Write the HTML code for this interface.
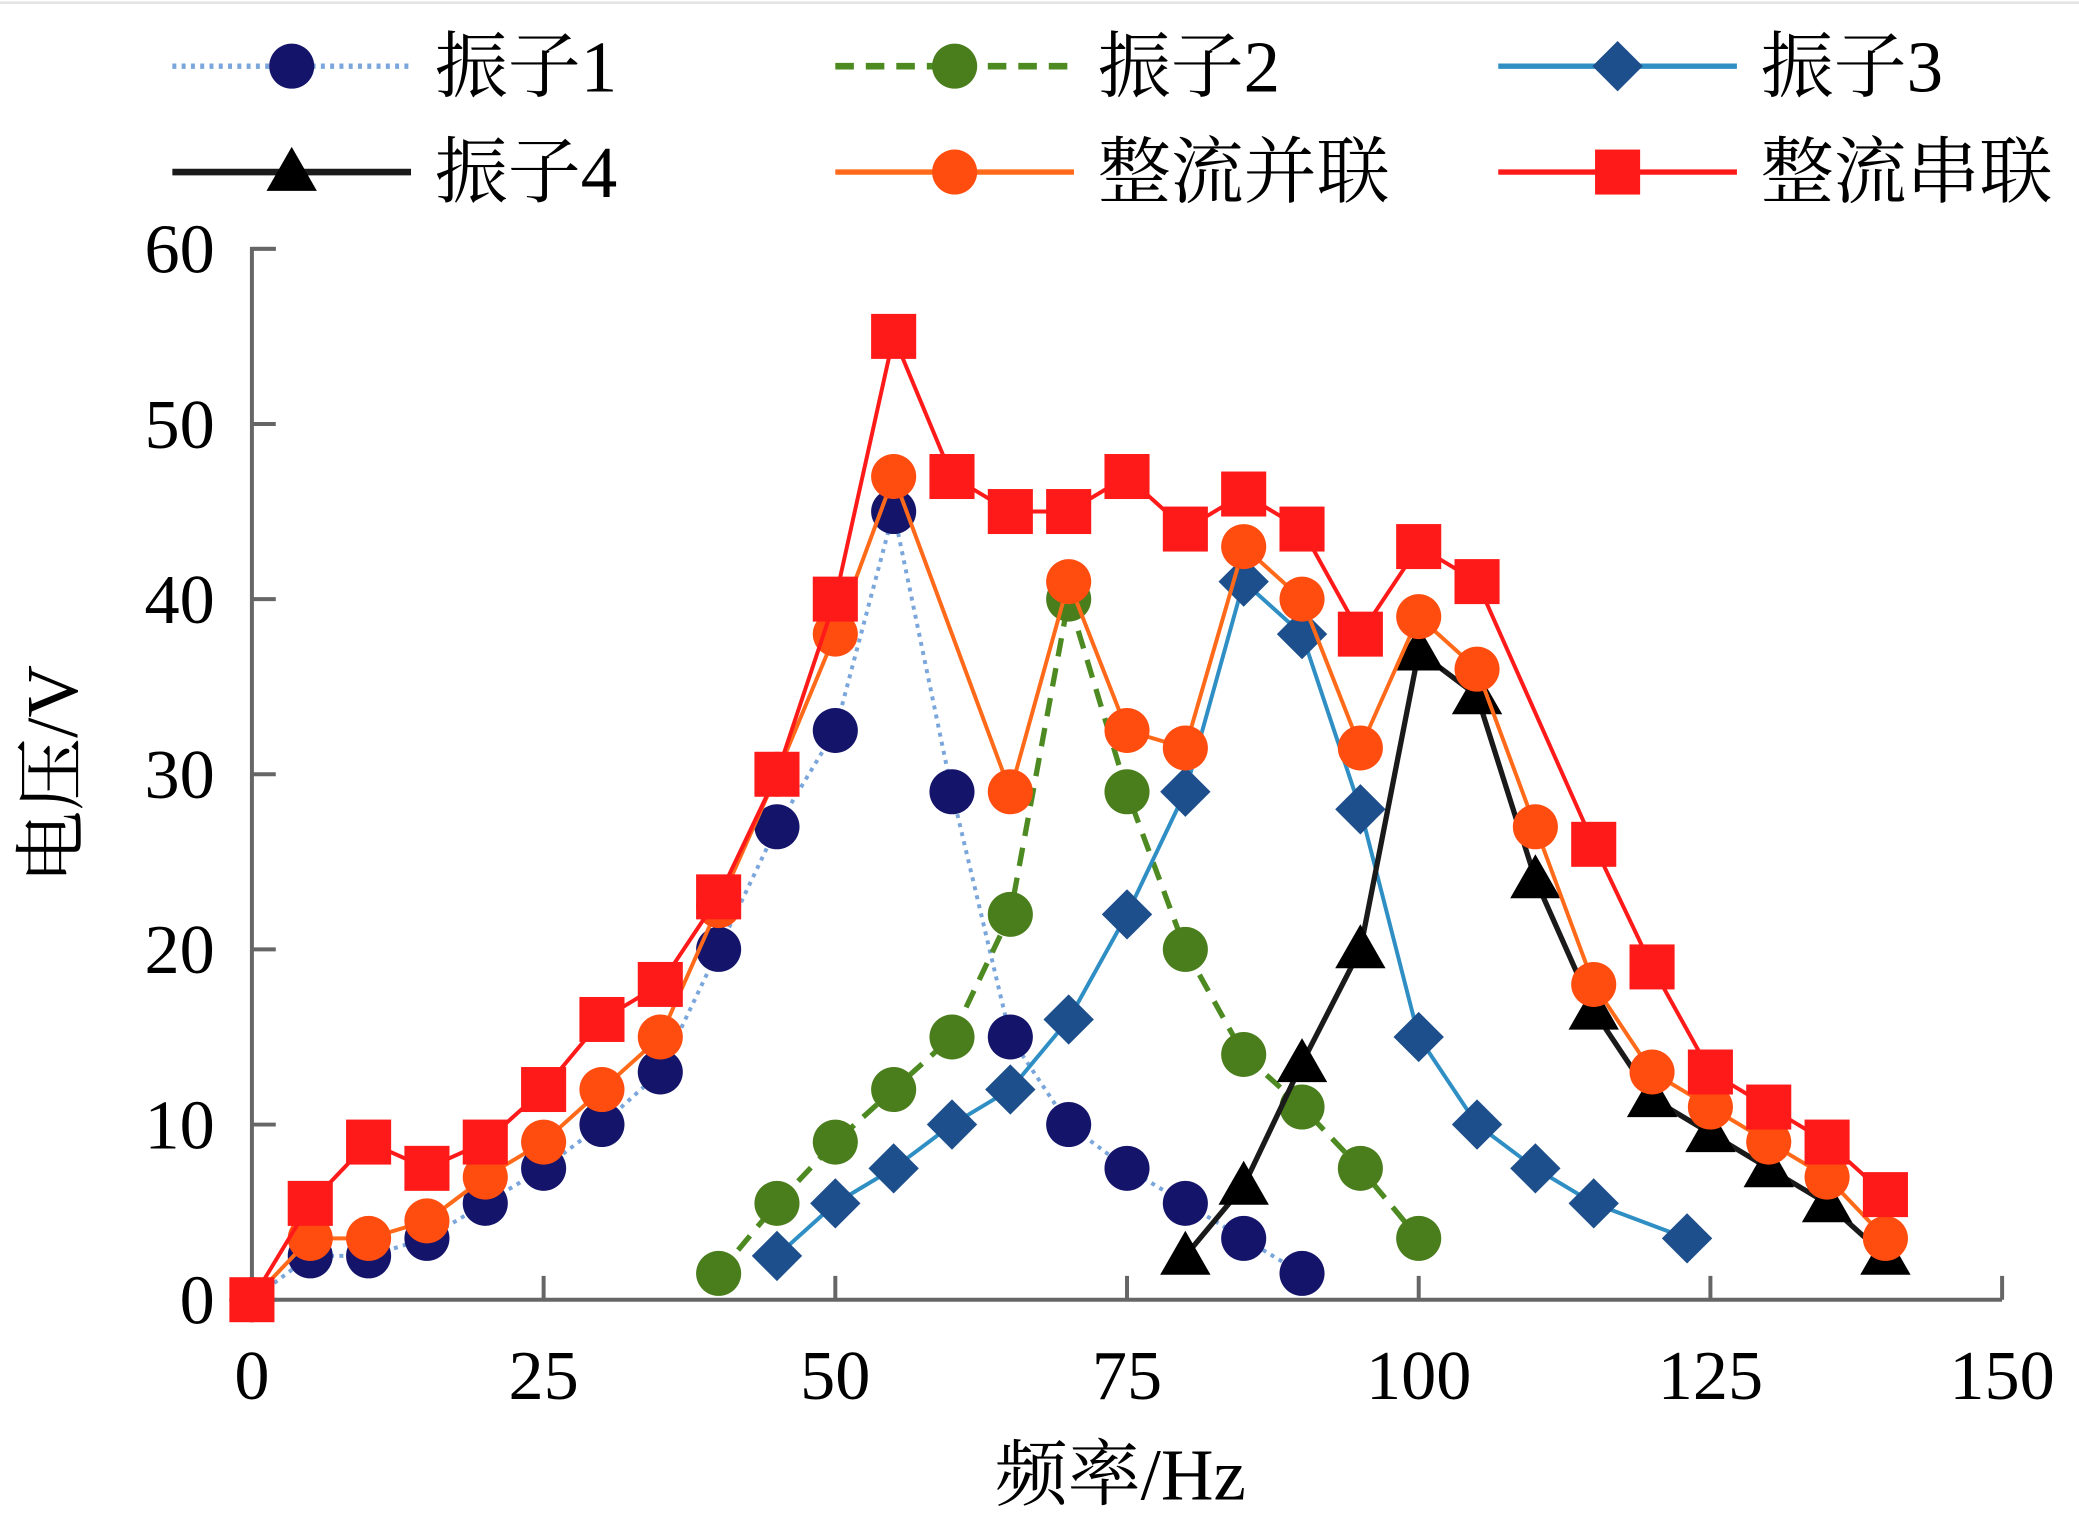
<!DOCTYPE html>
<html><head><meta charset="utf-8"><style>
html,body{margin:0;padding:0;background:#fff;}
svg{display:block;}
text{font-family:"Liberation Serif","Noto Serif CJK SC",serif;fill:#000;}
</style></head><body>
<svg id="chart" width="2079" height="1530" viewBox="0 0 1568 1156" preserveAspectRatio="none" xmlns="http://www.w3.org/2000/svg">
<line x1="0" y1="2" x2="1568" y2="2" stroke="#e4e4e4" stroke-width="2"/>
<g id="legend"></g>
<g id="axes"></g>
<g id="series"></g>
</svg>
<script>
const xTicks=[0,25,50,75,100,125,150];
const yTicks=[0,10,20,30,40,50,60];
const s1x=[0,5,10,15,20,25,30,35,40,45,50,55,60,65,70,75,80,85,90];
const s1y=[0,2.5,2.5,3.5,5.5,7.5,10,13,20,27,32.5,45,29,15,10,7.5,5.5,3.5,1.5];
const s2x=[40,45,50,55,60,65,70,75,80,85,90,95,100];
const s2y=[1.5,5.5,9,12,15,22,40,29,20,14,11,7.5,3.5];
const s3x=[45,50,55,60,65,70,75,80,85,90,95,100,105,110,115,123];
const s3y=[2.5,5.5,7.5,10,12,16,22,29,41,38,28,15,10,7.5,5.5,3.5];
const s4x=[80,85,90,95,100,105,110,115,120,125,130,135,140];
const s4y=[2.5,6.5,13.5,20,37,34.5,24,16.5,11.5,9.5,7.5,5.5,2.5];
const s5x=[0,5,10,15,20,25,30,35,40,45,50,55,65,70,75,80,85,90,95,100,105,110,115,120,125,130,135,140];
const s5y=[0,3.5,3.5,4.5,7,9,12,15,22.5,30,38,47,29,41,32.5,31.5,43,40,31.5,39,36,27,18,13,11,9,7,3.5];
const s6x=[0,5,10,15,20,25,30,35,40,45,50,55,60,65,70,75,80,85,90,95,100,105,115,120,125,130,135,140];
const s6y=[0,5.5,9,7.5,9,12,16,18,23,30,40,55,47,45,45,47,44,46,44,38,43,41,26,19,13,11,9,6];
const legendNames=["振子1","振子2","振子3","振子4","整流并联","整流串联"];

const NS="http://www.w3.org/2000/svg";
const X0=190,X1=1510,Y0=982,Y1=188;
const xs=v=>X0+(v/150)*(X1-X0);
const ys=v=>Y0-(v/60)*(Y0-Y1);
function el(tag,attrs,parent){const e=document.createElementNS(NS,tag);for(const k in attrs)e.setAttribute(k,attrs[k]);parent.appendChild(e);return e;}
const axes=document.getElementById('axes');
const ax=el('path',{d:`M${X0+18} ${Y1}H${X0}V${Y0}H${X1}`,fill:'none',stroke:'#666','stroke-width':3},axes);


yTicks.forEach(v=>{
  const t=el('line',{x1:X0,x2:X0+18,y1:ys(v),y2:ys(v),stroke:'#666','stroke-width':3},axes);
  
  
  const l=el('text',{x:X0-28,y:ys(v)+18,'text-anchor':'end','font-size':53},axes);
  l.textContent=v;
  
  
});
xTicks.forEach(v=>{
  const t=el('line',{x1:xs(v),x2:xs(v),y1:Y0,y2:Y0-18,stroke:'#666','stroke-width':3},axes);
  
  
  const l=el('text',{x:xs(v),y:1057,'text-anchor':'middle','font-size':53},axes);
  l.textContent=v;
  
  
});
const xt=el('text',{x:845,y:1133,'text-anchor':'middle','font-size':55},axes);
xt.textContent="频率/Hz";


const yt=el('text',{x:58,y:585,'text-anchor':'middle','font-size':55,transform:'rotate(-90 58 585)'},axes);
yt.textContent="电压/V";



const styles=[
 {line:'#7aa6dc',w:3,dash:'3 4',mk:'circle',fill:'#14146a',r:17},
 {line:'#4e8a22',w:4,dash:'14 9',mk:'circle',fill:'#4a7d1c',r:17},
 {line:'#2f8fc4',w:3,dash:'',mk:'diamond',fill:'#1d4f8c',r:19},
 {line:'#1a1a1a',w:4,dash:'',mk:'triangle',fill:'#000',r:19},
 {line:'#ff6a1a',w:3,dash:'',mk:'circle',fill:'#ff4d10',r:17},
 {line:'#ff1a1a',w:3,dash:'',mk:'square',fill:'#ff1a1a',r:17}
];
function marker(g,kind,cx,cy,r,fill){
  let m;
  if(kind==='circle')m=el('circle',{cx,cy,r,fill},g);
  else if(kind==='square')m=el('rect',{x:cx-r,y:cy-r,width:2*r,height:2*r,fill},g);
  else if(kind==='diamond')m=el('polygon',{points:`${cx},${cy-r} ${cx+r},${cy} ${cx},${cy+r} ${cx-r},${cy}`,fill},g);
  else m=el('polygon',{points:`${cx},${cy-r} ${cx+r},${cy+r*0.75} ${cx-r},${cy+r*0.75}`,fill},g);
  return m;
}
const data=[[s1x,s1y],[s2x,s2y],[s3x,s3y],[s4x,s4y],[s5x,s5y],[s6x,s6y]];
const series=document.getElementById('series');
data.forEach(([dx,dy],i)=>{
  const st=styles[i];
  const g=el('g',{},series);
  
  
  const p=el('polyline',{points:dx.map((x,j)=>xs(x)+','+ys(dy[j])).join(' '),fill:'none',stroke:st.line,'stroke-width':st.w,'stroke-dasharray':st.dash},g);
  
  
  dx.forEach((x,j)=>{
    const m=marker(g,st.mk,xs(x),ys(dy[j]),st.r,st.fill);
    
    
  });
});
const legend=document.getElementById('legend');
const lx=[130,630,1130],ly=[50,130];
legendNames.forEach((n,i)=>{
  const st=styles[i];const x=lx[i%3],y=ly[Math.floor(i/3)];
  const g=el('g',{},legend);
  
  
  el('line',{x1:x,x2:x+180,y1:y,y2:y,stroke:st.line,'stroke-width':st.w+1,'stroke-dasharray':st.dash},g);
  marker(g,st.mk,x+90,y,st.r,st.fill);
  const t=el('text',{x:x+198,y:y+19,'font-size':55},g);
  t.textContent=n;
});
</script>
</body></html>
